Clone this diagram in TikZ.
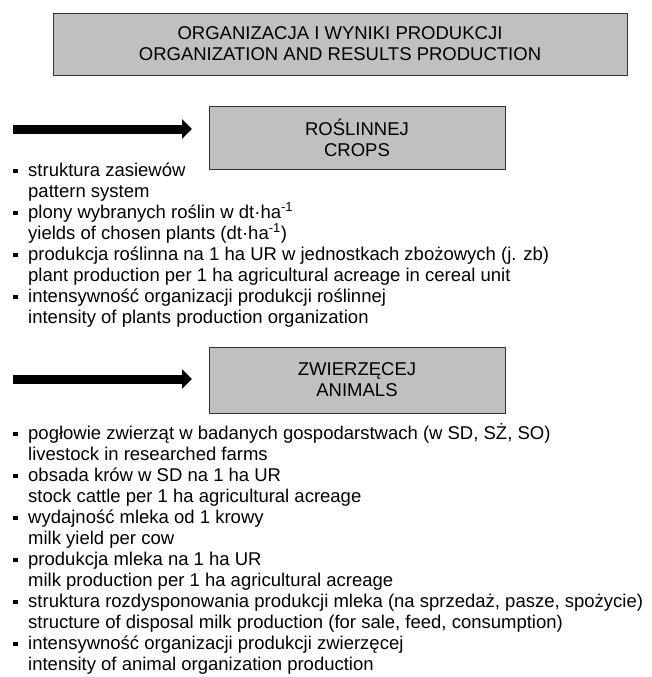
\documentclass[tikz,border=0pt]{standalone}
\usepackage{fontspec}
\setmainfont{Liberation Sans}
\usetikzlibrary{arrows.meta}

\definecolor{boxgray}{RGB}{192,192,192}

\begin{document}
\begin{tikzpicture}[
		x={(1pt,0pt)},
		y={(0pt,-1pt)},
		font=\fontsize{18.5}{21}\selectfont,
		box/.style={draw=black!80, line width=0.9pt, fill=boxgray, align=center, inner sep=0pt},
		bul/.style={rectangle, fill=black, inner sep=0pt, minimum size=4.5pt},
		txt/.style={anchor=base west, inner sep=0pt},
		fat/.style={line width=9pt, -{Triangle[length=10pt,width=19pt]}}
		]
		\useasboundingbox (0,0) rectangle (651,677);
		
		% title
		\node[box, minimum width=574pt, minimum height=62pt] (title) at (340,44)
		{ORGANIZACJA I WYNIKI PRODUKCJI\\ORGANIZATION AND RESULTS PRODUCTION};
		
		% crops
		\node[box, minimum width=296pt, minimum height=63pt] (crops) at (357,137.5)
		{ROŚLINNEJ\\CROPS};
		\coordinate (c0) at (13,129);
		\coordinate (c1) at (192,129);
		\draw[fat] (c0) -- (c1);
		
		\foreach \pl/\en [count=\i from 0] in {
			{struktura zasiewów}/{pattern system},
			{plony wybranych roślin w dt·ha\textsuperscript{-1}}/{yields of chosen plants (dt·ha\textsuperscript{-1})},
			{produkcja roślinna na 1 ha UR w jednostkach zbożowych (j. zb)}/{plant production per 1 ha agricultural acreage in cereal unit},
			{intensywność organizacji produkcji roślinnej}/{intensity of plants production organization}}
		{
			\node[bul] (cb\i) at (15.3,171.2+42*\i) {};
			\node[txt] (cp\i) at (28,176+42*\i) {\pl};
			\node[txt] (ce\i) at (28,197+42*\i) {\en};
		}
		
		% animals
		\node[box, minimum width=296pt, minimum height=66pt] (anim) at (357,380)
		{ZWIERZĘCEJ\\ANIMALS};
		\coordinate (z0) at (13,379);
		\coordinate (z1) at (192,379);
		\draw[fat] (z0) -- (z1);
		
		\foreach \pl/\en [count=\i from 0] in {
			{pogłowie zwierząt w badanych gospodarstwach (w SD, SŻ, SO)}/{livestock in researched farms},
			{obsada krów w SD na 1 ha UR}/{stock cattle per 1 ha agricultural acreage},
			{wydajność mleka od 1 krowy}/{milk yield per cow},
			{produkcja mleka na 1 ha UR}/{milk production per 1 ha agricultural acreage},
			{struktura rozdysponowania produkcji mleka (na sprzedaż, pasze, spożycie)}/{structure of disposal milk production (for sale, feed, consumption)},
			{intensywność organizacji produkcji zwierzęcej}/{intensity of animal organization production}}
		{
			\node[bul] (zb\i) at (15.3,434.2+42*\i) {};
			\node[txt] (zp\i) at (28,439+42*\i) {\pl};
			\node[txt] (ze\i) at (28,460+42*\i) {\en};
		}
		
\end{tikzpicture}
\end{document}
